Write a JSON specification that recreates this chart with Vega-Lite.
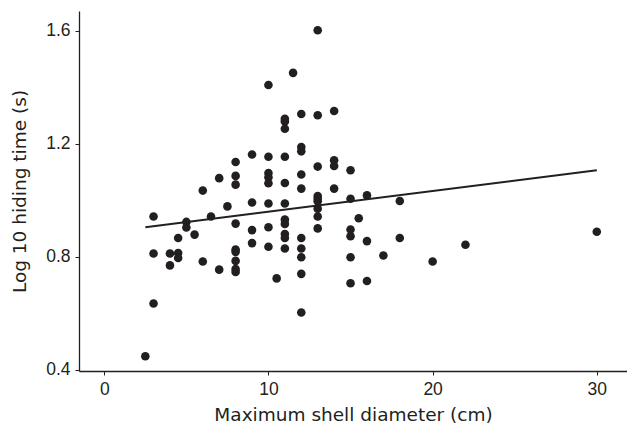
{
  "$schema": "https://vega.github.io/schema/vega-lite/v6.json",
  "autosize": "none",
  "width": 548,
  "height": 360,
  "padding": {"left": 79, "top": 11, "right": 0, "bottom": 54},
  "background": "white",
  "config": {
    "view": {"stroke": null},
    "axis": {
      "grid": false,
      "domainColor": "#231f20",
      "domainWidth": 1.3,
      "tickColor": "#231f20",
      "tickWidth": 1,
      "tickSize": 4,
      "labelFont": "Liberation Sans",
      "labelFontSize": 17.5,
      "labelColor": "#231f20",
      "labelPadding": 5,
      "titleFont": "DejaVu Sans",
      "titleFontSize": 18.5,
      "titleFontWeight": "normal",
      "titleColor": "#231f20"
    }
  },
  "datasets": {
    "points": [
      {"d": 2.5, "t": 0.447},
      {"d": 3, "t": 0.942}, {"d": 3, "t": 0.811}, {"d": 3, "t": 0.634},
      {"d": 4, "t": 0.811}, {"d": 4, "t": 0.769},
      {"d": 4.5, "t": 0.866}, {"d": 4.5, "t": 0.813}, {"d": 4.5, "t": 0.795},
      {"d": 5, "t": 0.923}, {"d": 5, "t": 0.903},
      {"d": 5.5, "t": 0.878},
      {"d": 6, "t": 1.034}, {"d": 6, "t": 0.783},
      {"d": 6.5, "t": 0.942},
      {"d": 7, "t": 1.078}, {"d": 7, "t": 0.754},
      {"d": 7.5, "t": 0.978},
      {"d": 8, "t": 1.135}, {"d": 8, "t": 1.086}, {"d": 8, "t": 1.055}, {"d": 8, "t": 0.917}, {"d": 8, "t": 0.825}, {"d": 8, "t": 0.817}, {"d": 8, "t": 0.785}, {"d": 8, "t": 0.756}, {"d": 8, "t": 0.746},
      {"d": 9, "t": 1.162}, {"d": 9, "t": 0.992}, {"d": 9, "t": 0.894}, {"d": 9, "t": 0.848},
      {"d": 10, "t": 1.408}, {"d": 10, "t": 1.154}, {"d": 10, "t": 1.096}, {"d": 10, "t": 1.081}, {"d": 10, "t": 1.06}, {"d": 10, "t": 0.988}, {"d": 10, "t": 0.904}, {"d": 10, "t": 0.835},
      {"d": 10.5, "t": 0.723},
      {"d": 11, "t": 1.288}, {"d": 11, "t": 1.279}, {"d": 11, "t": 1.253}, {"d": 11, "t": 1.154}, {"d": 11, "t": 1.061}, {"d": 11, "t": 0.988}, {"d": 11, "t": 0.931}, {"d": 11, "t": 0.916}, {"d": 11, "t": 0.88}, {"d": 11, "t": 0.866}, {"d": 11, "t": 0.829},
      {"d": 11.5, "t": 1.451},
      {"d": 12, "t": 1.305}, {"d": 12, "t": 1.188}, {"d": 12, "t": 1.173}, {"d": 12, "t": 1.091}, {"d": 12, "t": 1.041}, {"d": 12, "t": 0.866}, {"d": 12, "t": 0.829}, {"d": 12, "t": 0.798}, {"d": 12, "t": 0.739}, {"d": 12, "t": 0.602},
      {"d": 13, "t": 1.602}, {"d": 13, "t": 1.301}, {"d": 13, "t": 1.119}, {"d": 13, "t": 1.015}, {"d": 13, "t": 1.005}, {"d": 13, "t": 0.996}, {"d": 13, "t": 0.97}, {"d": 13, "t": 0.942}, {"d": 13, "t": 0.9},
      {"d": 14, "t": 1.316}, {"d": 14, "t": 1.141}, {"d": 14, "t": 1.121}, {"d": 14, "t": 1.041},
      {"d": 15, "t": 1.106}, {"d": 15, "t": 1.005}, {"d": 15, "t": 0.896}, {"d": 15, "t": 0.872}, {"d": 15, "t": 0.798}, {"d": 15, "t": 0.706},
      {"d": 15.5, "t": 0.936},
      {"d": 16, "t": 1.017}, {"d": 16, "t": 0.855}, {"d": 16, "t": 0.714},
      {"d": 17, "t": 0.804},
      {"d": 18, "t": 0.997}, {"d": 18, "t": 0.866},
      {"d": 20, "t": 0.783},
      {"d": 22, "t": 0.842},
      {"d": 30, "t": 0.888}
    ],
    "fit": [
      {"d": 2.5, "t": 0.904},
      {"d": 30, "t": 1.106}
    ]
  },
  "layer": [
    {
      "data": {"name": "points"},
      "mark": {"type": "point", "filled": true, "size": 74, "color": "#231f20", "opacity": 1},
      "encoding": {
        "x": {
          "field": "d", "type": "quantitative",
          "scale": {"domain": [-1.54, 31.84], "nice": false, "zero": false},
          "axis": {"values": [0, 10, 20, 30], "title": "Maximum shell diameter (cm)", "titlePadding": 8}
        },
        "y": {
          "field": "t", "type": "quantitative",
          "scale": {"domain": [0.395, 1.67], "nice": false, "zero": false},
          "axis": {"values": [0.4, 0.8, 1.2, 1.6], "format": ".1f", "title": "Log 10 hiding time (s)", "titlePadding": 16}
        }
      }
    },
    {
      "data": {"name": "fit"},
      "mark": {"type": "line", "color": "#231f20", "strokeWidth": 2},
      "encoding": {
        "x": {"field": "d", "type": "quantitative"},
        "y": {"field": "t", "type": "quantitative"}
      }
    }
  ]
}
